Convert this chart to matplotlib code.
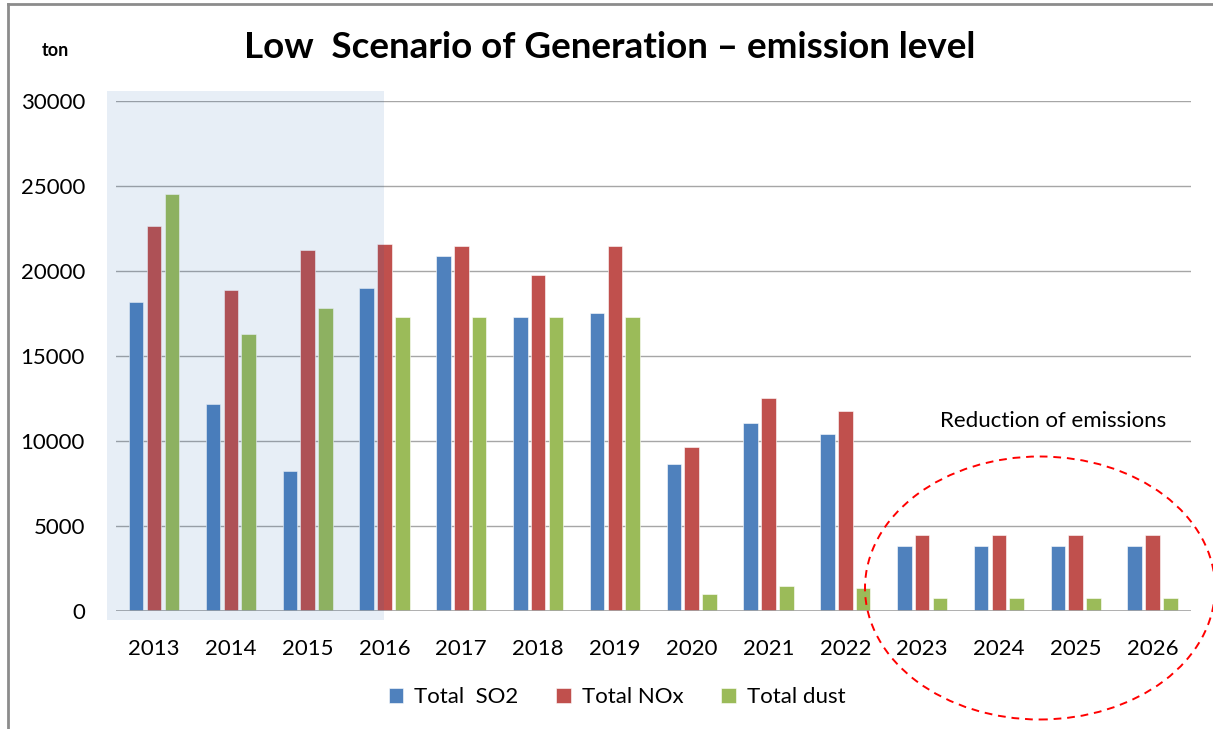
import matplotlib
matplotlib.use("Agg")
import matplotlib.pyplot as plt
import numpy as np
from matplotlib.patches import Rectangle, Ellipse
from matplotlib.lines import Line2D

years = ["2013", "2014", "2015", "2016", "2017", "2018", "2019",
         "2020", "2021", "2022", "2023", "2024", "2025", "2026"]
so2 = [18150, 12200, 8250, 19000, 20900, 17300, 17550,
       8650, 11050, 10400, 3800, 3800, 3800, 3800]
nox = [22650, 18900, 21250, 21600, 21450, 19750, 21500,
       9650, 12550, 11750, 4480, 4480, 4480, 4480]
dust = [24550, 16300, 17800, 17300, 17300, 17300, 17300,
        1000, 1500, 1380, 750, 750, 750, 750]
seriesNames = ["Total  SO2", "Total NOx", "Total dust"]
colors = ["#4F81BD", "#C0504D", "#9BBB59"]

plt.rcParams["font.family"] = ["Lato", "DejaVu Sans"]

W, H = 1213, 729
fig = plt.figure(figsize=(W / 100, H / 100), dpi=100)
ax = fig.add_axes([115.6 / W, 1 - 611 / H, (1191 - 115.6) / W, (611 - 101) / H])

x = np.arange(len(years))
width = 0.19
offset = 0.232
for i, (vals, name, c) in enumerate(zip([so2, nox, dust], seriesNames, colors)):
    ax.bar(x + (i - 1) * offset, vals, width, color=c, label=name,
           edgecolor="white", linewidth=0.4, zorder=3)

ax.set_xlim(-0.5, len(years) - 0.5)
ax.set_ylim(0, 30000)
ax.set_yticks(range(0, 30001, 5000))
ax.set_xticks(x)
ax.set_xticklabels(years)
ax.grid(axis="y", color="#A6A6A6", linewidth=1, zorder=0)
ax.set_axisbelow(True)
ax.tick_params(axis="both", length=0, labelsize=16)
ax.tick_params(axis="y", pad=22)
ax.tick_params(axis="x", pad=20)
for s in ax.spines.values():
    s.set_visible(False)
ax.axhline(0, color="#A6A6A6", linewidth=1.2, zorder=4)
ax.patch.set_alpha(0)

# shaded history block, semi-transparent over the bars
fig.patches.append(Rectangle((107 / W, 1 - 620 / H), (384 - 107) / W, (620 - 91) / H,
                             transform=fig.transFigure, facecolor=(21 / 255, 95 / 255, 175 / 255),
                             alpha=0.1, edgecolor="none", zorder=5))

# frame lines
fig.add_artist(Line2D([8 / W, 8 / W], [0, 1 - 4 / H], transform=fig.transFigure,
                      color="#8C8C8C", linewidth=2))
fig.add_artist(Line2D([8 / W, 1], [1 - 4 / H, 1 - 4 / H], transform=fig.transFigure,
                      color="#8C8C8C", linewidth=2))

fig.text(610 / W, 1 - 47 / H, "Low  Scenario of Generation \u2013 emission level",
         ha="center", va="center", fontsize=26.5, fontweight="bold")
fig.text(55 / W, 1 - 50 / H, "ton", ha="center", va="center", fontsize=13, fontweight="bold")
fig.text(1053 / W, 1 - 421 / H, "Reduction of emissions", ha="center", va="center", fontsize=16)

fig.add_artist(Ellipse((1040 / W, 1 - 588 / H), 350 / W, 263 / H, transform=fig.transFigure,
                       fill=False, edgecolor="#FF0000", linestyle=(0, (4, 3)), linewidth=1.4))

fig.legend(loc="center", bbox_to_anchor=(617 / W, 1 - 697 / H), ncol=3, frameon=False,
           fontsize=16, handlelength=0.65, handleheight=0.65, handletextpad=0.5,
           columnspacing=1.7)

fig.savefig("out.png", dpi=100)
